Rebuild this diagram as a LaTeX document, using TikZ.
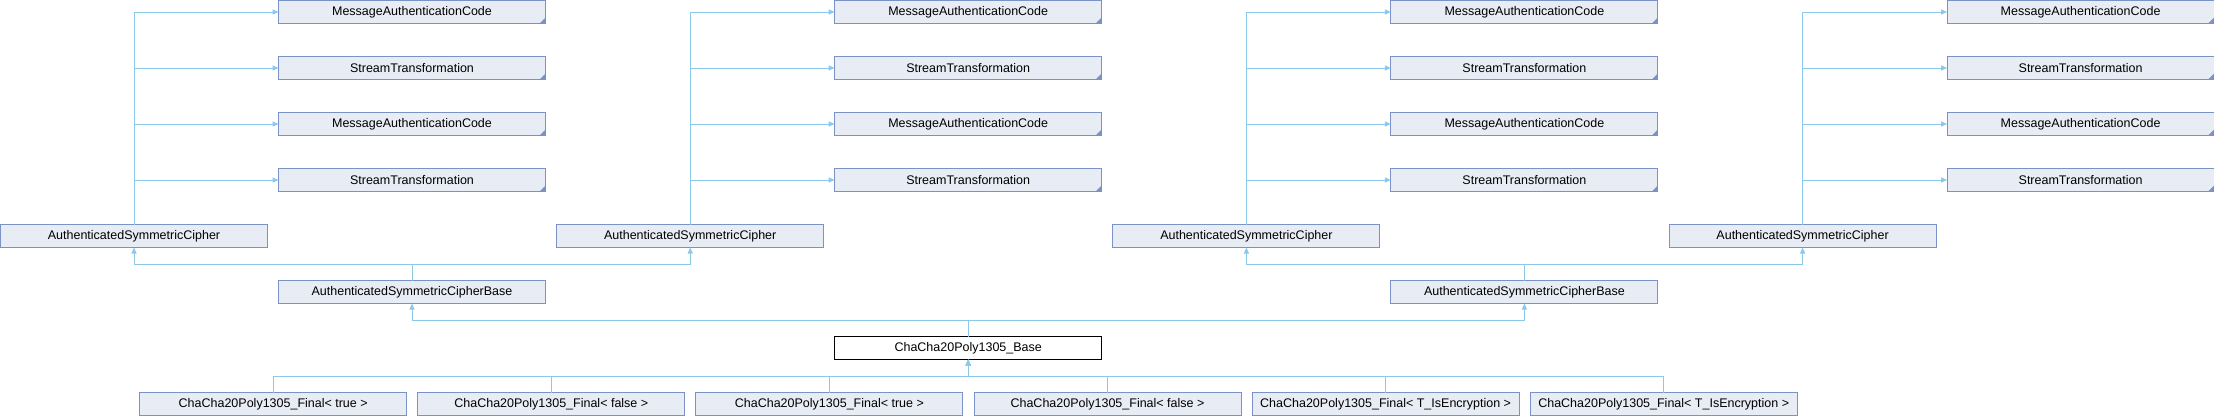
\documentclass[tikz,border=0pt]{standalone}
\usepackage{fontspec}
\setmainfont{Liberation Sans}
\usetikzlibrary{arrows.meta}
\definecolor{boxfill}{HTML}{E8ECF4}
\definecolor{boxline}{HTML}{7A92C6}
\definecolor{edgecol}{HTML}{8CC8EA}
\begin{document}
\begin{tikzpicture}[x=1pt,y=-1pt,
  cls/.style={draw=boxline,fill=boxfill,line width=1pt,minimum width=267pt,minimum height=23pt,inner sep=0pt,outer sep=0pt,font=\fontsize{12.5}{14}\selectfont},
  trunc/.style={cls,path picture={\fill[boxline] (path picture bounding box.south east) -- ++(-6pt,0pt) -- ++(6pt,6pt) -- cycle;}},
  focus/.style={cls,draw=black,fill=white},
  edge/.style={draw=edgecol,line width=1pt,-{Triangle[length=6pt,width=5pt]}}]
\useasboundingbox (0,0) rectangle (2214,416);
% top groups
\foreach \k in {0,1,2,3}{
  \node[cls] (asc\k) at ({134+556.2*\k},236) {AuthenticatedSymmetricCipher};
  \node[trunc] (ta\k) at ({412+556.2*\k},12) {MessageAuthenticationCode};
  \node[trunc] (tb\k) at ({412+556.2*\k},68) {StreamTransformation};
  \node[trunc] (tc\k) at ({412+556.2*\k},124) {MessageAuthenticationCode};
  \node[trunc] (td\k) at ({412+556.2*\k},180) {StreamTransformation};
  \draw[edge] (asc\k.north) |- (ta\k.west);
  \draw[edge] (asc\k.north) |- (tb\k.west);
  \draw[edge] (asc\k.north) |- (tc\k.west);
  \draw[edge] (asc\k.north) |- (td\k.west);
}
\node[cls] (b0) at (412,292) {AuthenticatedSymmetricCipherBase};
\node[cls] (b1) at (1524.4,292) {AuthenticatedSymmetricCipherBase};
\draw[edge] (b0.north) -- ++(0,-16) -| (asc0.south);
\draw[edge] (b0.north) -- ++(0,-16) -| (asc1.south);
\draw[edge] (b1.north) -- ++(0,-16) -| (asc2.south);
\draw[edge] (b1.north) -- ++(0,-16) -| (asc3.south);
\node[focus] (base) at (968.2,348) {ChaCha20Poly1305\_Base};
\draw[edge] (base.north) -- ++(0,-16) -| (b0.south);
\draw[edge] (base.north) -- ++(0,-16) -| (b1.south);
\foreach \k/\t in {0/true,1/false,2/true,3/false,4/T\_IsEncryption,5/T\_IsEncryption}{
  \node[cls] (f\k) at ({273.2+278.1*\k},404) {ChaCha20Poly1305\_Final< \t{} >};
  \draw[edge] (f\k.north) -- ++(0,-16) -| (base.south);
}
\end{tikzpicture}
\end{document}
